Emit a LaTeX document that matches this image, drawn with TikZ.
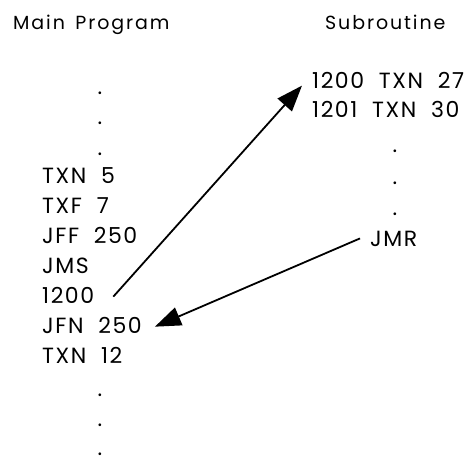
\documentclass[tikz,border=0pt]{standalone}
\usepackage{fontspec}
\setmainfont{Poppins}
\newfontfamily\codefont[LetterSpace=7,WordSpace=2]{Poppins}
\newfontfamily\headfont[LetterSpace=10,WordSpace=1.5]{Poppins}
\usetikzlibrary{arrows.meta}

\begin{document}
\begin{tikzpicture}[
  x=1pt,y=-1pt,
  code/.style={anchor=base west,inner sep=0pt,font=\codefont\fontsize{22}{26}\selectfont},
  title/.style={anchor=base west,inner sep=0pt,font=\headfont\fontsize{19}{23}\selectfont},
  gap/.style={anchor=base,inner sep=0pt,font=\fontsize{22}{26}\selectfont},
  jump/.style={-{Triangle[length=26pt,width=19pt]},line width=1.8pt}
]

% ---- columns ----
\def\xL{42}    % main program
\def\xD{100}   % main program dots
\def\xR{312}   % subroutine
\def\xS{395}   % subroutine dots

\useasboundingbox (0,0) rectangle (473,461);

% ---- headings ----
\node[title] (hM) at (13,29)  {Main Program};
\node[title] (hS) at (325,29) {Subroutine};

% ---- main program ----
\node[gap] (d1) at (\xD,94)  {.};
\node[gap] (d2) at (\xD,124) {.};
\node[gap] (d3) at (\xD,155) {.};

\node[code] (m1) at (\xL,183) {TXN 5};
\node[code] (m2) at (\xL,213) {TXF 7};
\node[code] (m3) at (\xL,243) {JFF 250};
\node[code] (m4) at (\xL,273) {JMS};
\node[code] (m5) at (\xL,303) {1200};
\node[code] (m6) at (\xL,333) {JFN 250};
\node[code] (m7) at (\xL,363) {TXN 12};

\node[gap] (d4) at (\xD,396) {.};
\node[gap] (d5) at (\xD,426) {.};
\node[gap] (d6) at (\xD,455) {.};

% ---- subroutine ----
\node[code] (s1) at (\xR,88)  {1200 TXN 27};
\node[code] (s2) at (\xR,117) {1201 TXN 30};

\node[gap] (e1) at (\xS,152) {.};
\node[gap] (e2) at (\xS,184) {.};
\node[gap] (e3) at (\xS,215) {.};

\node[code] (s3) at (370,246) {JMR};

% ---- jumps ----
\draw[jump] ([xshift=19pt,yshift=-1.7pt]m5.east) -- ([xshift=-10pt,yshift=-5.7pt]s1.west);
\draw[jump] ([xshift=-10pt]s3.west) -- ([xshift=13pt,yshift=-1.7pt]m6.east);

\end{tikzpicture}
\end{document}
